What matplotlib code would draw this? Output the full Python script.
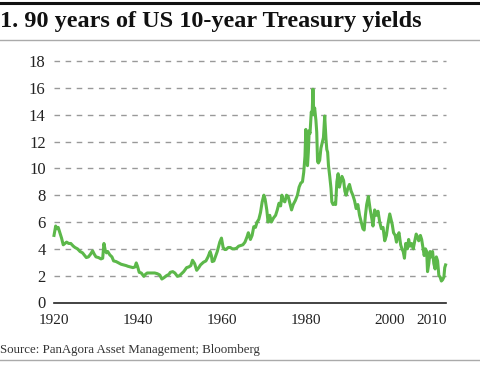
import matplotlib.pyplot as plt
from matplotlib.lines import Line2D

# Approximate monthly-ish readings of the 10-year yield (%)
years = [
    1920.0, 1920.4, 1920.7, 1921.0, 1921.4, 1921.8, 1922.2, 1922.6, 1923.0, 1923.5,
    1924.0, 1924.6, 1925.0, 1925.6, 1926.2, 1926.8, 1927.3, 1927.7, 1928.2, 1928.7,
    1929.2, 1929.6, 1930.0, 1930.6, 1931.2, 1931.6, 1931.9, 1932.2, 1932.5, 1932.8,
    1933.3, 1933.8, 1934.2, 1934.8, 1935.4, 1936.0, 1936.6, 1937.2, 1937.6, 1938.2,
    1938.8, 1939.3, 1939.6, 1939.9, 1940.3, 1940.8, 1941.4, 1941.8, 1942.2, 1942.8,
    1943.4, 1944.0, 1944.6, 1945.2, 1945.7, 1946.2, 1946.8, 1947.4, 1947.7, 1948.3,
    1948.8, 1949.4, 1949.9, 1950.4, 1950.9, 1951.6, 1952.1, 1952.6, 1953.0, 1953.5,
    1954.0, 1954.5, 1954.9, 1955.6, 1956.2, 1956.7, 1957.2, 1957.5, 1957.7, 1958.1,
    1958.5, 1958.9, 1959.5, 1959.9, 1960.3, 1960.7, 1961.0, 1961.5, 1962.0, 1962.5,
    1963.0, 1963.5, 1964.0, 1964.5, 1965.0, 1965.5, 1966.0, 1966.3, 1966.8, 1967.2,
    1967.6, 1968.0, 1968.4, 1968.8, 1969.2, 1969.6, 1970.0, 1970.3, 1970.7, 1971.0,
    1971.4, 1971.8, 1972.3, 1972.8, 1973.2, 1973.6, 1974.0, 1974.3, 1974.6, 1975.0,
    1975.4, 1975.8, 1976.2, 1976.6, 1977.0, 1977.5, 1978.0, 1978.4, 1978.8, 1979.2,
    1979.5, 1979.8, 1980.0, 1980.2, 1980.4, 1980.6, 1980.8, 1981.0, 1981.3, 1981.5,
    1981.7, 1981.9, 1982.1, 1982.4, 1982.6, 1982.8, 1983.0, 1983.3, 1983.6, 1983.9,
    1984.2, 1984.5, 1984.8, 1985.0, 1985.2, 1985.4, 1985.7, 1986.0, 1986.2, 1986.5,
    1986.8, 1987.1, 1987.4, 1987.7, 1988.0, 1988.3, 1988.6, 1989.0, 1989.3, 1989.6,
    1990.0, 1990.4, 1990.8, 1991.2, 1991.6, 1992.0, 1992.4, 1992.8, 1993.2, 1993.6,
    1993.9, 1994.2, 1994.5, 1994.9, 1995.3, 1995.7, 1996.0, 1996.4, 1996.8, 1997.2,
    1997.6, 1998.0, 1998.4, 1998.8, 1999.2, 1999.6, 2000.0, 2000.3, 2000.6, 2000.9,
    2001.3, 2001.6, 2001.9, 2002.2, 2002.6, 2002.9, 2003.2, 2003.5, 2003.8, 2004.2,
    2004.5, 2004.8, 2005.2, 2005.6, 2005.9, 2006.3, 2006.6, 2006.9, 2007.3, 2007.6,
    2007.9, 2008.2, 2008.5, 2008.8, 2009.0, 2009.3, 2009.6, 2009.9, 2010.2, 2010.5,
    2010.8, 2011.1, 2011.4, 2011.7, 2012.0, 2012.3, 2012.6, 2012.9, 2013.1, 2013.3,
]
yields = [
    5.0, 5.7, 5.5, 5.6, 5.2, 4.8, 4.3, 4.4, 4.5, 4.4,
    4.4, 4.2, 4.1, 4.0, 3.8, 3.7, 3.5, 3.35, 3.4, 3.6,
    3.85, 3.6, 3.4, 3.35, 3.25, 3.3, 4.4, 3.9, 3.7, 3.8,
    3.55, 3.4, 3.1, 3.05, 2.95, 2.85, 2.8, 2.75, 2.7, 2.65,
    2.6, 2.65, 2.95, 2.7, 2.25, 2.2, 1.95, 2.1, 2.2, 2.2,
    2.2, 2.2, 2.15, 2.05, 1.75, 1.85, 2.0, 2.1, 2.25, 2.3,
    2.2, 1.95, 2.0, 2.15, 2.3, 2.6, 2.65, 2.75, 3.15, 2.9,
    2.4, 2.6, 2.8, 3.0, 3.1, 3.4, 3.8, 3.5, 3.05, 3.1,
    3.45, 3.8, 4.5, 4.8, 4.1, 3.95, 3.95, 4.1, 4.1, 4.0,
    4.0, 4.05, 4.2, 4.25, 4.3, 4.5, 4.9, 5.2, 4.7, 5.0,
    5.65, 5.6, 6.0, 6.2, 6.7, 7.5, 8.0, 7.7, 6.9, 6.0,
    6.5, 6.0, 6.3, 6.5, 6.9, 7.4, 7.2, 8.0, 7.6, 7.5,
    8.0, 7.9, 7.4, 6.9, 7.3, 7.6, 8.0, 8.6, 8.9, 9.0,
    9.7, 10.9, 12.9, 11.4, 10.2, 11.2, 12.8, 12.6, 14.2, 14.0,
    15.9, 14.0, 14.5, 13.6, 12.7, 10.5, 10.4, 10.6, 11.5, 11.9,
    12.3, 13.9, 12.2, 11.4, 11.2, 10.2, 9.4, 8.5, 7.5, 7.3,
    7.4, 7.3, 9.0, 9.6, 8.6, 9.0, 9.4, 9.1, 8.3, 8.0,
    8.5, 8.8, 8.3, 8.0, 7.6, 7.0, 7.3, 6.5, 6.0, 5.5,
    5.4, 6.5, 7.3, 7.9, 7.0, 6.3, 5.7, 6.9, 6.5, 6.8,
    6.0, 5.5, 5.6, 4.6, 5.0, 5.9, 6.6, 6.2, 5.8, 5.2,
    5.0, 4.5, 5.0, 5.2, 4.3, 4.0, 3.8, 3.3, 4.4, 4.0,
    4.7, 4.2, 4.4, 4.0, 4.5, 5.1, 4.9, 4.6, 5.0, 4.7,
    4.1, 3.5, 4.0, 3.8, 2.3, 2.9, 3.8, 3.4, 3.8, 2.9,
    2.5, 3.4, 3.1, 2.0, 1.9, 1.6, 1.7, 1.9, 2.6, 2.8,
]
x_ticks = [1920, 1940, 1960, 1980, 2000, 2010]
y_ticks = [0, 2, 4, 6, 8, 10, 12, 14, 16, 18]

serif = "Liberation Serif"
green = "#5cb84a"

fig = plt.figure(figsize=(4.8, 3.65), dpi=100)
ax = fig.add_axes([54 / 480, 1 - 302.5 / 365, 392 / 480, 241.5 / 365])

ax.plot(years, yields, color=green, lw=2.2, clip_on=False, zorder=3)
ax.set_xlim(1920, 2013.4)
ax.set_ylim(0, 18)

ax.set_xticks(x_ticks)
ax.set_yticks(y_ticks)
ax.tick_params(length=0, colors="#222222")
ax.tick_params(axis="x", pad=8, labelsize=11)
ax.tick_params(axis="y", pad=6, labelsize=12)
for lab in ax.get_xticklabels() + ax.get_yticklabels():
    lab.set_family(serif)

for s in ["top", "right", "left"]:
    ax.spines[s].set_visible(False)
ax.spines["bottom"].set_color("#222222")
ax.spines["bottom"].set_linewidth(1.2)

for v in y_ticks[1:]:
    ax.axhline(v, color="#999999", lw=1, ls=(0, (4, 4)), zorder=1, clip_on=False)

# header / footer rules
fig.add_artist(Line2D([0, 1], [1 - 3 / 365, 1 - 3 / 365], color="#111111", lw=2.2))
fig.add_artist(Line2D([0, 0.997], [1 - 40 / 365, 1 - 40 / 365], color="#aaaaaa", lw=1))
fig.add_artist(Line2D([0, 0.997], [1 - 360 / 365, 1 - 360 / 365], color="#aaaaaa", lw=1))

fig.text(0.0, 1 - 21 / 365, "1. 90 years of US 10-year Treasury yields",
         family=serif, weight="bold", fontsize=17.5, color="#111111", va="center")
fig.text(0.0, 1 - 350 / 365, "Source: PanAgora Asset Management; Bloomberg",
         family=serif, fontsize=9.3, color="#333333", va="center")

fig.savefig("out.png", dpi=100)
